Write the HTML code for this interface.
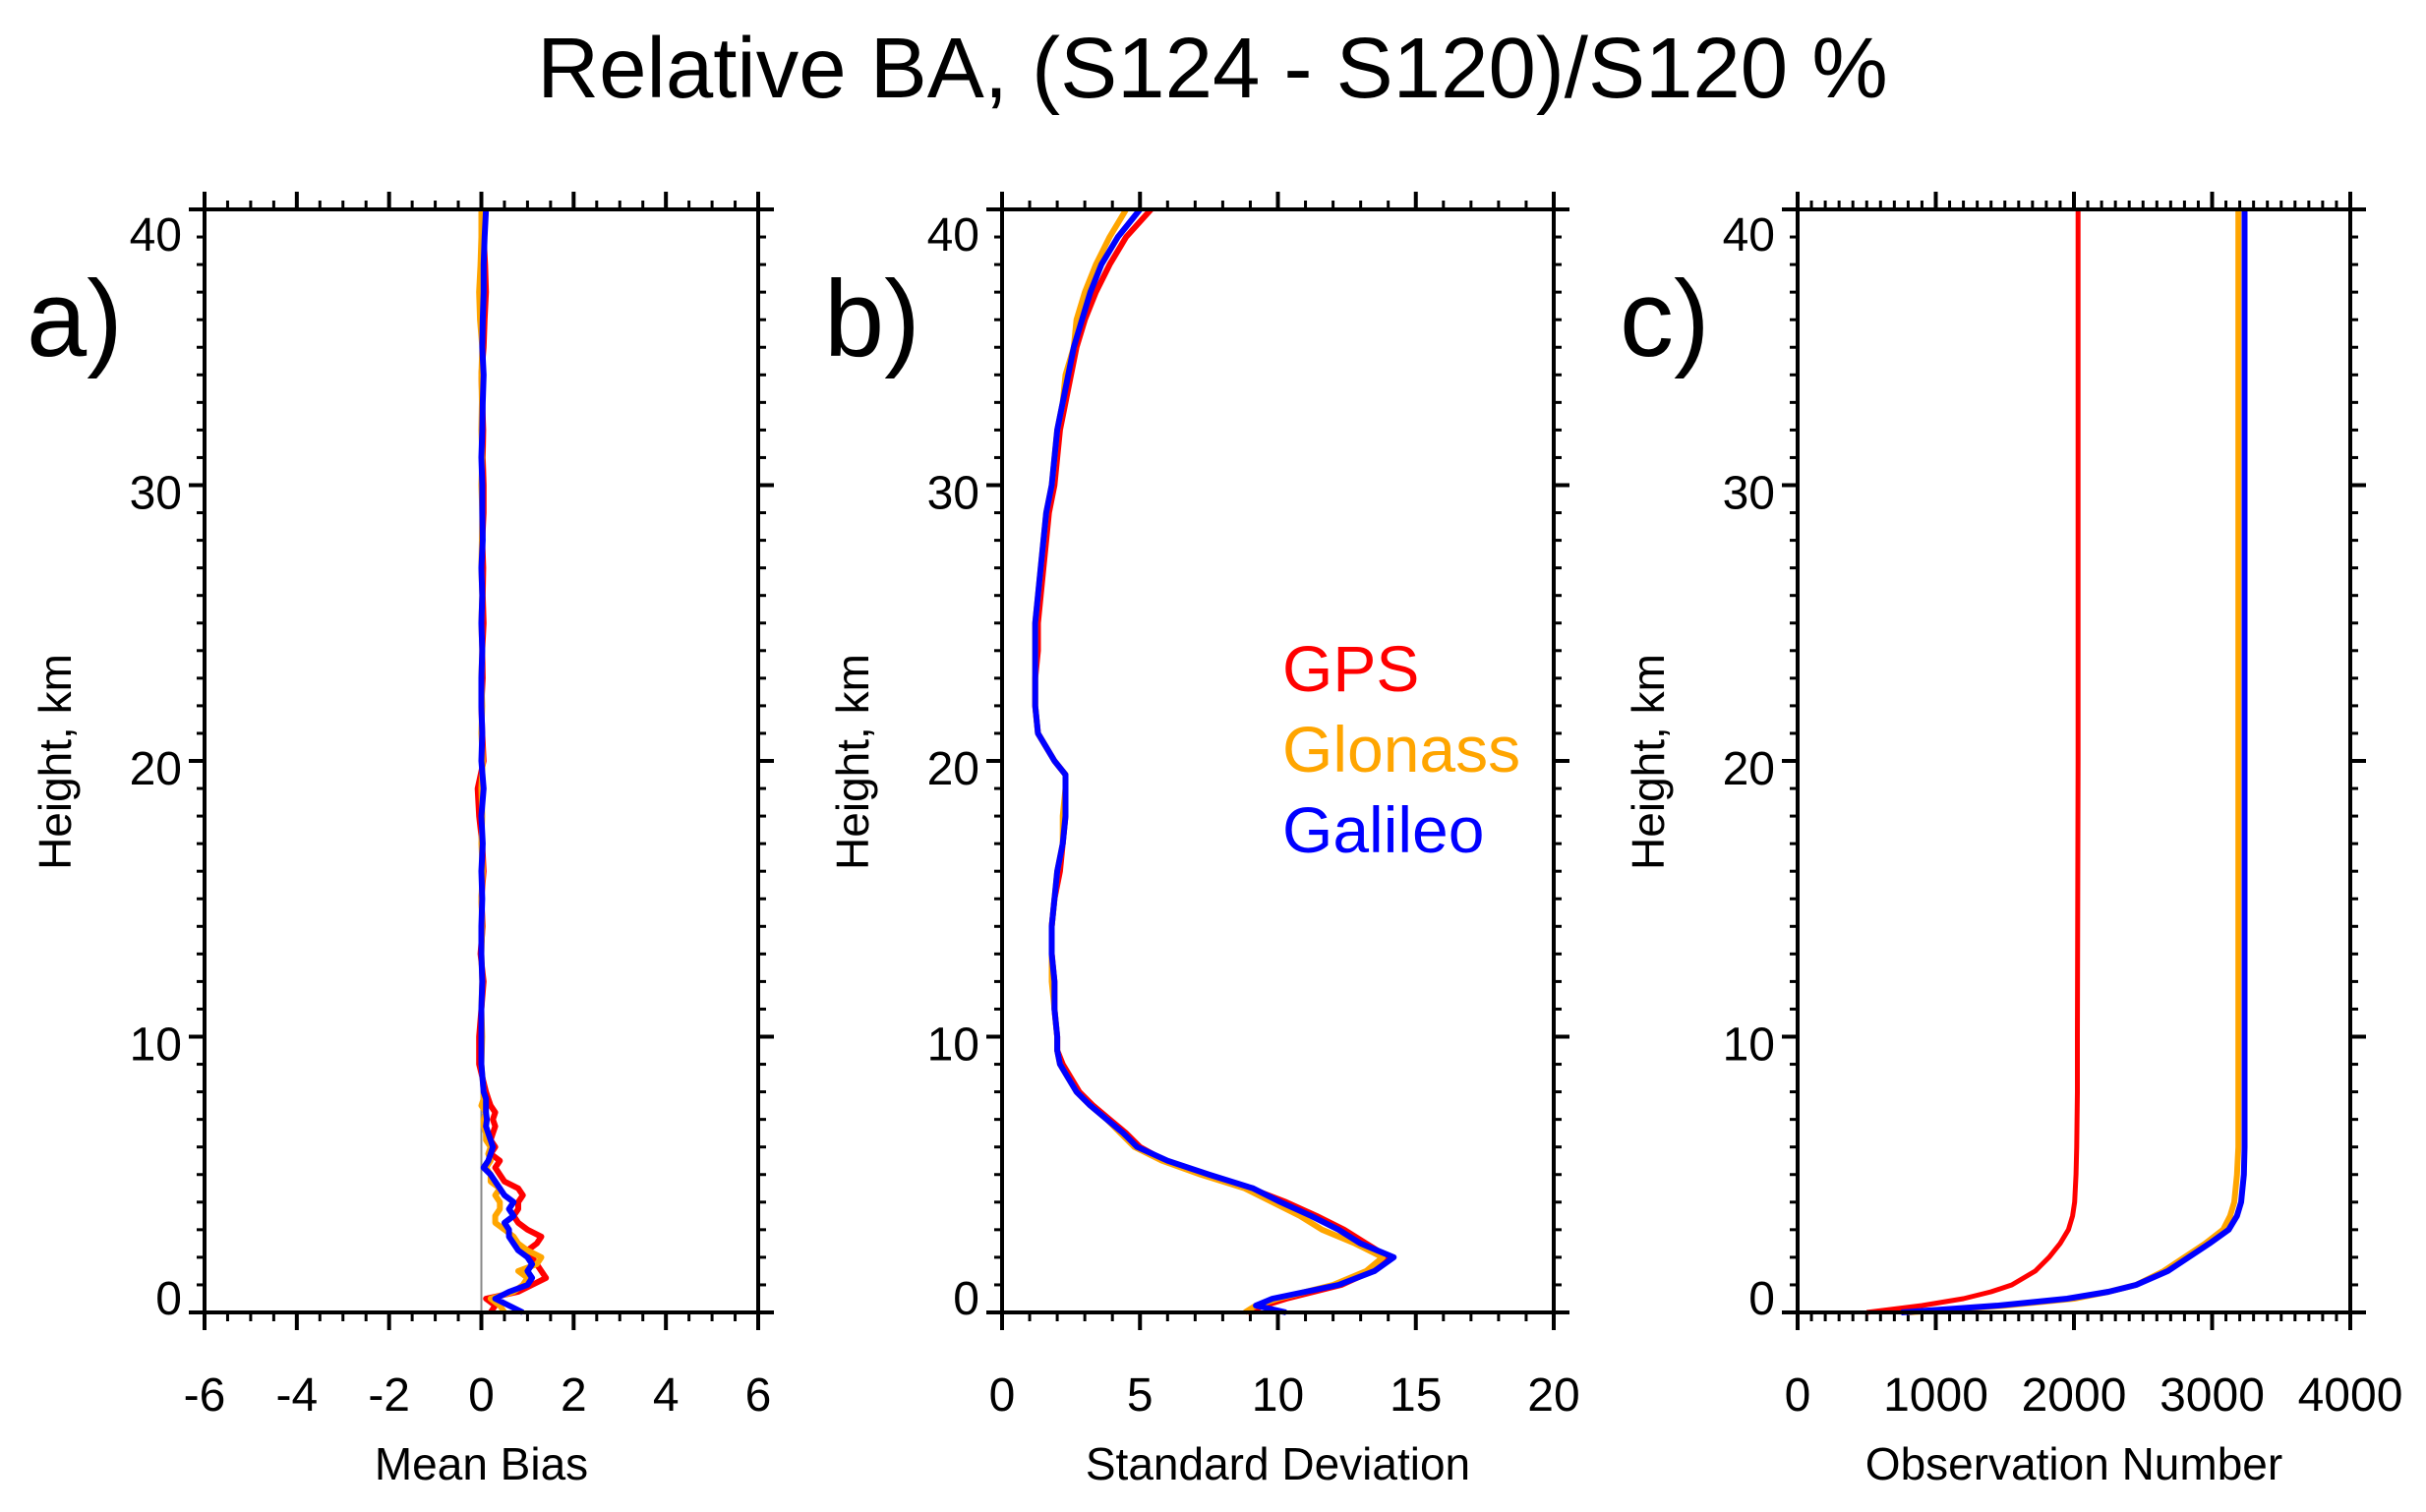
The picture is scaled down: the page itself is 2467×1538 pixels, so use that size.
<!DOCTYPE html>
<html><head><meta charset="utf-8"><style>
html,body{margin:0;padding:0;background:#fff;}
svg{display:block;font-family:"Liberation Sans",sans-serif;}
</style></head><body>
<svg id="fig" width="2467" height="1538" viewBox="0 0 2467 1538" xmlns="http://www.w3.org/2000/svg">
<text x="1233" y="99" font-size="87" text-anchor="middle">Relative BA, (S124 - S120)/S120 %</text>
<g id="root"></g>
</svg>
<script>
// ---- Panel a: Mean bias ----
const heightsA = [0,0.25,0.5,0.75,1,1.25,1.5,1.75,2,2.25,2.5,2.75,3,3.25,3.5,3.75,4,4.25,4.5,4.75,5,5.25,5.5,5.75,6,6.25,6.5,6.75,7,7.25,7.5,7.75,8,9,10,11,12,13,14,15,16,17,18,19,20,21,22,23,24,25,26,27,28,29,30,31,32,33,34,35,36,37,38,39,40];
const biasGPS = [0.2,0.3,0.1,0.8,1.1,1.4,1.3,1.2,1.1,1.0,1.2,1.3,1.0,0.8,0.7,0.8,0.8,0.9,0.8,0.5,0.4,0.3,0.4,0.2,0.3,0.2,0.25,0.3,0.25,0.3,0.2,0.15,0.1,-0.05,-0.05,0.0,0.05,-0.02,0.03,0.0,0.05,0.02,-0.05,-0.08,0.05,0.02,0.0,0.03,0.02,0.05,0.03,0.04,0.02,0.05,0.05,0.03,0.04,0.02,0.0,0.05,0.07,0.1,0.08,0.05,0.05];
const biasGlonass = [0.5,0.4,0.2,0.7,0.9,1.0,0.8,1.2,1.3,1.0,0.8,0.7,0.5,0.3,0.3,0.4,0.4,0.3,0.4,0.2,0.2,0.1,0.2,0.15,0.2,0.1,0.1,0.05,0.05,0.1,0.0,0.05,0.05,0.0,0.02,0.0,0.02,0.0,0.02,0.0,0.03,0.0,0.02,0.0,0.03,0.0,0.02,0.0,0.02,0.0,0.02,0.0,0.01,0.02,0.0,0.02,0.0,0.01,0.0,0.02,-0.03,-0.05,-0.02,0.0,0.0];
const biasGalileo = [0.9,0.6,0.3,0.6,1.0,1.1,1.0,1.1,1.0,0.8,0.7,0.6,0.6,0.5,0.7,0.6,0.7,0.5,0.4,0.3,0.2,0.05,0.15,0.2,0.25,0.2,0.15,0.1,0.12,0.1,0.1,0.1,0.05,0.0,0.0,0.0,0.02,0.0,0.0,0.02,0.0,0.03,0.0,0.05,0.0,0.02,0.0,0.0,0.02,0.0,0.02,0.0,0.03,0.02,0.02,0.0,0.02,0.03,0.05,0.02,0.03,0.05,0.05,0.07,0.1];
const ticksA = [-6,-4,-2,0,2,4,6];

// ---- Panel b: Standard deviation ----
const heightsB = [0,0.25,0.5,1,1.5,2,2.5,3,3.5,4,4.5,5,5.5,6,6.5,7,7.5,8,8.5,9,9.5,10,11,12,13,14,15,16,17,18,19,19.5,20,21,22,23,24,25,26,27,28,29,30,31,32,33,34,35,36,37,38,39,40];
const sdGPS = [8.9,9.5,10.3,12.3,13.4,14.0,13.2,12.4,11.4,10.3,9.0,7.4,5.9,5.0,4.5,3.9,3.3,2.8,2.5,2.2,2.0,2.0,1.9,1.9,1.8,1.8,1.9,2.1,2.2,2.3,2.3,2.3,1.9,1.3,1.2,1.2,1.3,1.3,1.4,1.5,1.6,1.7,1.9,2.0,2.1,2.3,2.5,2.7,3.0,3.4,3.9,4.5,5.4];
const sdGlonass = [8.8,9.2,10.0,12.0,13.2,13.8,12.8,11.6,10.8,9.8,8.8,7.2,5.8,4.8,4.3,3.8,3.2,2.7,2.4,2.1,2.0,2.0,1.9,1.8,1.8,1.8,1.9,2.0,2.2,2.2,2.3,2.3,1.9,1.3,1.2,1.2,1.2,1.2,1.3,1.4,1.5,1.6,1.8,1.9,2.0,2.2,2.3,2.6,2.7,3.0,3.4,3.9,4.5];
const sdGalileo = [10.3,9.2,9.8,12.2,13.5,14.2,13.0,12.2,11.2,10.1,9.1,7.5,6.0,4.9,4.4,3.8,3.2,2.7,2.4,2.1,2.0,2.0,1.9,1.9,1.8,1.8,1.9,2.0,2.2,2.3,2.3,2.3,1.9,1.3,1.2,1.2,1.2,1.2,1.3,1.4,1.5,1.6,1.8,1.9,2.0,2.2,2.4,2.6,2.9,3.2,3.6,4.2,5.0];
const ticksB = [0,5,10,15,20];

// ---- Panel c: Observation number ----
const heightsC = [0,0.25,0.5,0.75,1,1.5,2,2.5,3,3.5,4,5,6,8,10,20,30,40];
const obsGPS = [500,900,1200,1400,1550,1720,1820,1900,1960,1990,2005,2015,2020,2025,2025,2030,2030,2030];
const obsGlonass = [800,1500,2000,2250,2450,2650,2800,2950,3080,3130,3160,3180,3190,3190,3190,3190,3190,3190];
const obsGalileo = [750,1450,1950,2250,2450,2680,2830,2980,3120,3180,3210,3230,3235,3235,3235,3235,3235,3235];
const ticksC = [0,1000,2000,3000,4000];
const ticksY = [0,10,20,30,40];

const NS = "http://www.w3.org/2000/svg";
const root = document.getElementById('root');
const TOP = 213, BOT = 1335;
function mk(tag, attrs, parent){const e=document.createElementNS(NS,tag);for(const k in attrs)e.setAttribute(k,attrs[k]);(parent||root).appendChild(e);return e;}
function yS(h){return BOT-(h/40)*(BOT-TOP);}

function panel(opt){
  const g = mk('g',{});
  
  
  const L=opt.left,R=opt.right;
  const xS=v=>L+(v-opt.min)/(opt.max-opt.min)*(R-L);
  for(let v=opt.min; v<=opt.max+1e-9; v+=opt.minor){
    const x=xS(v);
    mk('line',{x1:x,y1:BOT,x2:x,y2:BOT+9,stroke:'#000','stroke-width':3},g);
    mk('line',{x1:x,y1:TOP,x2:x,y2:TOP-9,stroke:'#000','stroke-width':3},g);
  }
  opt.ticks.forEach(v=>{
    const x=xS(v);
    mk('line',{x1:x,y1:BOT,x2:x,y2:BOT+18,stroke:'#000','stroke-width':4},g);
    mk('line',{x1:x,y1:TOP,x2:x,y2:TOP-18,stroke:'#000','stroke-width':4},g);
    const t=mk('text',{x:x,y:1435,'font-size':48,'text-anchor':'middle'},g);
    t.textContent=v;
    
    
  });
  for(let h=0;h<=40;h++){
    const y=yS(h), len=(h%10===0)?16:8;
    mk('line',{x1:L,y1:y,x2:L-len,y2:y,stroke:'#000','stroke-width':h%10===0?4:3},g);
    mk('line',{x1:R,y1:y,x2:R+len,y2:y,stroke:'#000','stroke-width':h%10===0?4:3},g);
  }
  ticksY.forEach(h=>{
    const off = h===40?42:(h===0?2:24);
    const t=mk('text',{x:L-23,y:yS(h)+off,'font-size':48,'text-anchor':'end'},g);
    t.textContent=h;
    
    
  });
  if(opt.zero){
    const zl=mk('line',{x1:xS(0),y1:TOP,x2:xS(0),y2:BOT,stroke:'#888','stroke-width':2},g);
    
    
  }
  opt.series.forEach(s=>{
    const pts=s.vals.map((v,i)=>xS(v).toFixed(1)+','+yS(s.h[i]).toFixed(1)).join(' ');
    const p=mk('polyline',{points:pts,fill:'none',stroke:s.color,'stroke-width':s.w||6,'stroke-linejoin':'round'},g);
    
    
  });
  const fr=mk('rect',{x:L,y:TOP,width:R-L,height:BOT-TOP,fill:'none',stroke:'#000','stroke-width':4},g);
  
  
  const xt=mk('text',{x:(L+R)/2,y:1505,'font-size':46,'text-anchor':'middle'},g);
  xt.textContent=opt.xtitle;
  
  
  const yx=L-136;
  const yt=mk('text',{x:yx,y:775,'font-size':46,'text-anchor':'middle',transform:`rotate(-90 ${yx} 775)`},g);
  yt.textContent='Height, km';
  
  
  const pl=mk('text',{x:L-181,y:362,'font-size':110},g);
  pl.textContent=opt.letter;
  
  
}

panel({name:'panel-mean-bias',left:208,right:771,min:-6,max:6,minor:0.5,ticks:ticksA,zero:true,xtitle:'Mean Bias',letter:'a)',
  series:[{name:'gps-bias-line',h:heightsA,vals:biasGPS,color:'#ff0000'},{name:'glonass-bias-line',h:heightsA,vals:biasGlonass,color:'#ffa500'},{name:'galileo-bias-line',h:heightsA,vals:biasGalileo,color:'#0000ff'}]});
panel({name:'panel-std-dev',left:1019,right:1580,min:0,max:20,minor:1,ticks:ticksB,xtitle:'Standard Deviation',letter:'b)',
  series:[{name:'gps-sd-line',h:heightsB,vals:sdGPS,color:'#ff0000'},{name:'glonass-sd-line',h:heightsB,vals:sdGlonass,color:'#ffa500'},{name:'galileo-sd-line',h:heightsB,vals:sdGalileo,color:'#0000ff'}]});
panel({name:'panel-obs-number',left:1828,right:2390,min:0,max:4000,minor:100,ticks:ticksC,xtitle:'Observation Number',letter:'c)',
  series:[{name:'gps-obs-line',h:heightsC,vals:obsGPS,color:'#ff0000',w:5},{name:'glonass-obs-line',h:heightsC,vals:obsGlonass,color:'#ffa500'},{name:'galileo-obs-line',h:heightsC,vals:obsGalileo,color:'#0000ff'}]});

const leg=[['GPS','#ff0000',703],['Glonass','#ffa500',785],['Galileo','#0000ff',867]];
leg.forEach(l=>{
  const t=mk('text',{x:1304,y:l[2],'font-size':66,fill:l[1]});
  t.textContent=l[0];
  
  
});
</script>
</body></html>
